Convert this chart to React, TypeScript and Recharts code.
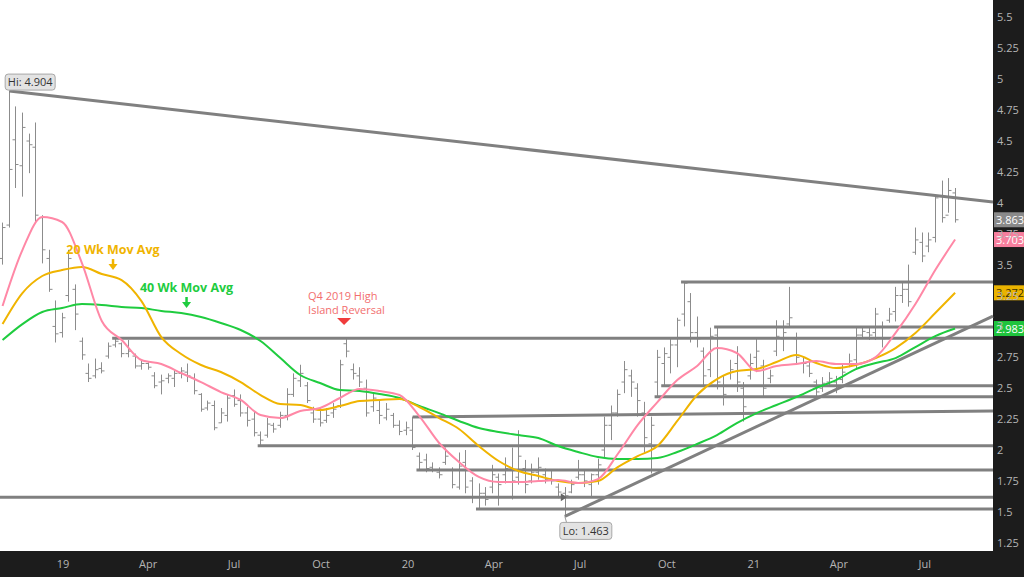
import React from 'react';
import {
  ComposedChart,
  Bar,
  Line,
  XAxis,
  YAxis,
  ReferenceLine,
  ReferenceDot,
  CartesianGrid,
} from 'recharts';

// ---- weekly OHLC bars ----
const barHigh = [
  3.84, 4.904, 4.78, 4.73, 4.56, 4.65, 3.9, 3.62, 3.21, 3.11,
  3.62, 3.34, 2.91, 2.7, 2.74, 2.71, 2.87, 2.91, 2.87, 2.89,
  2.78, 2.73, 2.71, 2.63, 2.61, 2.62, 2.65, 2.67, 2.7, 2.62,
  2.46, 2.4, 2.4, 2.34, 2.45, 2.49, 2.45, 2.35, 2.31, 2.15,
  2.26, 2.22, 2.31, 2.5, 2.62, 2.69, 2.55, 2.35, 2.34, 2.34,
  2.38, 2.73, 2.9, 2.7, 2.67, 2.57, 2.46, 2.4, 2.38, 2.3,
  2.24, 2.23, 2.27, 1.98, 1.97, 1.9, 1.86, 2.02, 1.86, 1.98,
  2.0, 1.78, 1.73, 1.7, 1.88, 1.81, 1.94, 2.02, 2.16, 1.92,
  1.89, 1.94, 1.85, 1.84, 1.73, 1.7, 1.76, 1.92, 1.84, 1.81,
  1.93, 2.27, 2.36, 2.49, 2.72, 2.65, 2.54, 2.39, 2.27, 2.81,
  2.83, 2.91, 3.07, 3.36, 3.27, 3.08, 2.83, 2.99, 2.99, 2.6,
  2.73, 2.84, 2.55, 2.78, 2.9, 2.73, 2.65, 3.05, 3.05, 3.32,
  2.95, 2.76, 2.73, 2.57, 2.59, 2.63, 2.6, 2.7, 2.78, 2.99,
  2.99, 2.99, 3.15, 3.04, 3.15, 3.32, 3.36, 3.5, 3.8, 3.76,
  3.76, 4.06, 4.18, 4.2, 4.12,
];
const barLow = [
  3.5, 3.8, 4.12, 4.05, 4.24, 3.84, 3.51, 3.28, 2.87, 2.91,
  3.2, 2.97, 2.73, 2.55, 2.58, 2.62, 2.74, 2.83, 2.75, 2.75,
  2.66, 2.65, 2.65, 2.5, 2.45, 2.54, 2.51, 2.58, 2.55, 2.45,
  2.31, 2.32, 2.16, 2.22, 2.23, 2.35, 2.27, 2.19, 2.11, 2.03,
  2.1, 2.14, 2.18, 2.24, 2.43, 2.51, 2.38, 2.22, 2.19, 2.22,
  2.26, 2.34, 2.75, 2.57, 2.51, 2.27, 2.31, 2.21, 2.24, 2.18,
  2.12, 2.12, 2.0, 1.84, 1.82, 1.82, 1.77, 1.88, 1.69, 1.68,
  1.65, 1.57, 1.53, 1.55, 1.65, 1.55, 1.73, 1.6, 1.72, 1.65,
  1.73, 1.76, 1.73, 1.72, 1.61, 1.463, 1.65, 1.76, 1.7, 1.62,
  1.72, 1.94, 2.08, 2.27, 2.46, 2.43, 2.27, 1.98, 1.81, 2.43,
  2.52, 2.62, 2.67, 3.0, 2.87, 2.83, 2.51, 2.59, 2.49, 2.36,
  2.57, 2.47, 2.23, 2.57, 2.63, 2.43, 2.54, 2.76, 2.8, 3.0,
  2.69, 2.62, 2.59, 2.43, 2.47, 2.51, 2.46, 2.54, 2.67, 2.65,
  2.91, 2.89, 2.89, 2.83, 3.03, 3.04, 3.19, 3.16, 3.58, 3.52,
  3.6, 3.68, 3.84, 3.92, 3.84,
];
const barOpen = [
  3.55, 3.82, 4.51, 4.3, 4.5, 4.45, 3.88, 3.55, 3.0, 2.95,
  3.25, 3.3, 2.88, 2.62, 2.6, 2.66, 2.76, 2.85, 2.86, 2.78,
  2.76, 2.68, 2.7, 2.6, 2.55, 2.58, 2.58, 2.62, 2.63, 2.58,
  2.45, 2.34, 2.36, 2.22, 2.28, 2.44, 2.4, 2.3, 2.25, 2.12,
  2.12, 2.2, 2.2, 2.28, 2.45, 2.56, 2.52, 2.3, 2.25, 2.24,
  2.3, 2.36, 2.86, 2.65, 2.6, 2.5, 2.35, 2.32, 2.26, 2.28,
  2.2, 2.16, 2.16, 1.95, 1.92, 1.86, 1.82, 1.9, 1.84, 1.7,
  1.9, 1.75, 1.62, 1.65, 1.7, 1.78, 1.8, 1.85, 1.78, 1.85,
  1.75, 1.82, 1.8, 1.77, 1.7, 1.65, 1.66, 1.78, 1.8, 1.72,
  1.8, 2.0, 2.2, 2.3, 2.55, 2.6, 2.5, 2.3, 2.05, 2.55,
  2.7, 2.75, 2.85, 3.1, 3.2, 2.95, 2.8, 2.65, 2.93, 2.52,
  2.62, 2.7, 2.5, 2.6, 2.75, 2.68, 2.58, 2.8, 2.9, 3.02,
  2.9, 2.7, 2.68, 2.55, 2.5, 2.55, 2.55, 2.57, 2.7, 2.73,
  2.93, 2.95, 2.95, 3.0, 3.05, 3.12, 3.25, 3.3, 3.6, 3.68,
  3.65, 3.72, 4.05, 3.9, 4.08,
];
const barClose = [
  3.8, 4.27, 4.31, 4.61, 4.47, 3.9, 3.62, 3.3, 2.94, 3.07,
  3.55, 3.1, 2.77, 2.58, 2.65, 2.64, 2.84, 2.88, 2.78, 2.8,
  2.68, 2.7, 2.67, 2.52, 2.56, 2.6, 2.62, 2.64, 2.6, 2.48,
  2.33, 2.38, 2.18, 2.3, 2.42, 2.37, 2.3, 2.24, 2.14, 2.08,
  2.21, 2.17, 2.28, 2.45, 2.58, 2.62, 2.4, 2.25, 2.22, 2.28,
  2.33, 2.69, 2.8, 2.62, 2.55, 2.3, 2.42, 2.28, 2.33, 2.2,
  2.15, 2.18, 2.02, 1.9, 1.85, 1.84, 1.8, 1.95, 1.72, 1.87,
  1.7, 1.62, 1.65, 1.6, 1.8, 1.72, 1.85, 1.75, 1.95, 1.72,
  1.82, 1.86, 1.76, 1.75, 1.66, 1.63, 1.72, 1.8, 1.75, 1.8,
  1.88, 2.2, 2.3, 2.45, 2.65, 2.55, 2.4, 2.1, 2.2, 2.75,
  2.78, 2.85, 3.05, 3.35, 2.95, 2.9, 2.6, 2.92, 2.55, 2.45,
  2.65, 2.55, 2.35, 2.7, 2.8, 2.5, 2.6, 2.92, 2.95, 3.07,
  2.75, 2.7, 2.62, 2.47, 2.54, 2.58, 2.5, 2.63, 2.72, 2.93,
  2.96, 2.93, 3.1, 2.9, 3.1, 3.25, 3.3, 3.2, 3.7, 3.57,
  3.7, 4.04, 3.88, 4.1, 3.863,
];

// bar timing: days counted from 1 Jan 2019, one bar per week
const FIRST_BAR_DAY = -64;
const BAR_STEP_DAYS = 7;

// ---- moving averages, read every 3rd bar ----
const MA_SAMPLE_STEP = 3;
const ma9 = [
  3.165, 3.618, 3.885, 3.845, 3.513, 3.044, 2.89, 2.728, 2.696, 2.623,
  2.55, 2.469, 2.405, 2.283, 2.259, 2.316, 2.34, 2.421, 2.494, 2.477,
  2.445, 2.275, 2.057, 1.903, 1.782, 1.741, 1.741, 1.749, 1.757, 1.733,
  1.765, 1.968, 2.202, 2.388, 2.566, 2.68, 2.825, 2.785, 2.639, 2.68,
  2.696, 2.72, 2.696, 2.696, 2.752, 2.947, 3.181, 3.456, 3.703,
];
const ma20 = [
  3.019, 3.27, 3.408, 3.456, 3.481, 3.424, 3.375, 3.205, 2.914, 2.777,
  2.688, 2.631, 2.55, 2.445, 2.372, 2.364, 2.324, 2.356, 2.396, 2.405,
  2.413, 2.348, 2.259, 2.17, 2.032, 1.911, 1.83, 1.79, 1.749, 1.733,
  1.749, 1.862, 1.951, 2.032, 2.235, 2.445, 2.574, 2.639, 2.655, 2.712,
  2.769, 2.704, 2.663, 2.688, 2.744, 2.825, 2.947, 3.108, 3.272,
];
const ma40 = [
  2.89, 3.019, 3.117, 3.149, 3.181, 3.173, 3.157, 3.149, 3.125, 3.108,
  3.076, 3.028, 2.971, 2.882, 2.744, 2.607, 2.542, 2.485, 2.477, 2.453,
  2.421, 2.356, 2.299, 2.235, 2.178, 2.146, 2.121, 2.097, 2.032, 1.984,
  1.943, 1.927, 1.927, 1.935, 1.984, 2.049, 2.121, 2.218, 2.299, 2.364,
  2.429, 2.502, 2.566, 2.655, 2.704, 2.744, 2.833, 2.922, 2.983,
];

// ---- axes ----
const xTickDays = [0, 90, 181, 273, 365, 456, 547, 639, 731, 821, 912];
const xTickLabels = ['19', 'Apr', 'Jul', 'Oct', '20', 'Apr', 'Jul', 'Oct', '21', 'Apr', 'Jul'];
const yTicks = [1.25, 1.5, 1.75, 2, 2.25, 2.5, 2.75, 3, 3.25, 3.5, 3.75, 4, 4.25, 4.5, 4.75, 5, 5.25, 5.5];
const X_MIN = -66.7;
const X_MAX = 984.1;
const Y_MIN = 1.183;
const Y_MAX = 5.641;

// ---- support / resistance levels (start bar -> right edge) ----
const levelValues = [2.905, 3.36, 2.995, 2.52, 2.43, 2.035, 1.838, 1.617, 1.523];
const levelStartBars = [17, 103, 108, 100, 99, 39, 63, -1, 72];

// ---- sloped lines (start bar, start value -> value at right edge) ----
const trendStartBars = [1, 85, 62];
const trendStartValues = [4.904, 1.463, 2.267];
const trendEndValues = [4.006, 3.084, 2.316];

// ---- last values shown on the price axis ----
const lastValues = [3.863, 3.703, 3.272, 2.983];
const lastColors = ['#8a8a8a', '#f77f9e', '#eab300', '#1fc43d'];
const lastTextColors = ['#ffffff', '#ffffff', '#3a3000', '#ffffff'];

const barDay = (i: number) => FIRST_BAR_DAY + BAR_STEP_DAYS * i;

const data = barHigh.map((h, i) => ({
  day: barDay(i),
  range: [barLow[i], h],
  high: h,
  low: barLow[i],
  open: barOpen[i],
  close: barClose[i],
}));

const maSeries = (vals: number[]) =>
  vals.map((v, s) => ({ day: barDay(s * MA_SAMPLE_STEP), v }));
const ma9Data = maSeries(ma9);
const ma20Data = maSeries(ma20);
const ma40Data = maSeries(ma40);

const FONT = '"Open Sans", "DejaVu Sans", sans-serif';
const BAR_COLOR = '#8c8c8c';
const LEVEL_COLOR = '#808080';

const OhlcShape = (props: any) => {
  const { x, y, width, height, payload } = props;
  if (x == null || y == null || !payload) return null;
  const top = Math.min(y, y + height);
  const h = Math.abs(height);
  const cx = Math.round(x + width / 2) + 0.5;
  const span = payload.high - payload.low || 1;
  const k = h / span;
  const oy = top + (payload.high - payload.open) * k;
  const cy = top + (payload.high - payload.close) * k;
  return (
    <g stroke={BAR_COLOR} strokeWidth={1}>
      <line x1={cx} x2={cx} y1={top} y2={top + h} />
      <line x1={cx - 3} x2={cx} y1={oy} y2={oy} />
      <line x1={cx} x2={cx + 3} y1={cy} y2={cy} />
    </g>
  );
};

const YTick = (props: any) => {
  const { x, y, payload } = props;
  return (
    <text x={x} y={y} dy={4} textAnchor="start" fill="#b5b5b5" fontSize={11} fontFamily={FONT}>
      {String(payload.value)}
    </text>
  );
};

const XTick = (props: any) => {
  const { x, y, payload } = props;
  const idx = xTickDays.indexOf(payload.value);
  return (
    <text x={x} y={y} dy={17} textAnchor="middle" fill="#b5b5b5" fontSize={11} fontFamily={FONT}>
      {idx >= 0 ? xTickLabels[idx] : ''}
    </text>
  );
};

const makeBadge = (value: number, bg: string, fg: string) => (props: any) => {
  const { cx, cy } = props;
  if (cx == null || cy == null) return null;
  return (
    <g>
      <rect x={cx + 1} y={cy - 7.5} width={40} height={15} fill={bg} />
      <text x={cx + 3} y={cy + 4} fill={fg} fontSize={11} fontFamily={FONT}>
        {value.toFixed(3)}
      </text>
    </g>
  );
};

const HiShape = (props: any) => {
  const { cx, cy } = props;
  return (
    <g>
      <rect x={cx - 4} y={cy - 17} width={50} height={16} rx={3} fill="#e3e3e3" stroke="#a8a8a8" />
      <text x={cx + 21} y={cy - 5} textAnchor="middle" fill="#333" fontSize={11} fontFamily={FONT}>
        {`Hi: ${barHigh[1].toFixed(3)}`}
      </text>
    </g>
  );
};

const LoShape = (props: any) => {
  const { cx, cy } = props;
  return (
    <g>
      <line x1={cx} y1={cy} x2={cx + 2} y2={cy + 7} stroke="#999" strokeWidth={1} />
      <rect x={cx - 5} y={cy + 6} width={52} height={17} rx={3} fill="#e3e3e3" stroke="#a8a8a8" />
      <text x={cx + 21} y={cy + 19} textAnchor="middle" fill="#333" fontSize={11} fontFamily={FONT}>
        {`Lo: ${barLow[85].toFixed(3)}`}
      </text>
    </g>
  );
};

const LoMarker = (props: any) => {
  const { cx, cy } = props;
  return <polygon points={`${cx - 4},${cy - 4} ${cx + 2},${cy} ${cx - 4},${cy + 4}`} fill="#666" />;
};

const makeMaLabel = (label: string, color: string) => (props: any) => {
  const { cx, cy } = props;
  return (
    <g>
      <text x={cx} y={cy + 5} textAnchor="middle" fill={color} fontSize={12.5} fontWeight="bold" fontFamily={FONT}>
        {label}
      </text>
      <line x1={cx} y1={cy + 10} x2={cx} y2={cy + 17} stroke={color} strokeWidth={2.5} />
      <polygon points={`${cx - 4.5},${cy + 15} ${cx + 4.5},${cy + 15} ${cx},${cy + 21}`} fill={color} />
    </g>
  );
};

const Q4Shape = (props: any) => {
  const { cx, cy } = props;
  return (
    <g>
      <text x={cx - 36} y={cy - 22} fill="#f26e6e" fontSize={11} fontFamily={FONT}>
        Q4 2019 High
      </text>
      <text x={cx - 36} y={cy - 8} fill="#f26e6e" fontSize={11} fontFamily={FONT}>
        Island Reversal
      </text>
      <polygon points={`${cx - 7},${cy - 4} ${cx + 7},${cy - 4} ${cx},${cy + 3}`} fill="#f03c3c" />
    </g>
  );
};

// annotation anchors in chart coordinates (day, price)
const MA20_LABEL_AT = { day: 52.9, price: 3.626 };
const MA40_LABEL_AT = { day: 130.7, price: 3.319 };
const Q4_LABEL_AT = { day: 297.4, price: 3.036 };

export default function App() {
  return (
    <div
      style={{
        position: 'absolute',
        left: 0,
        top: 0,
        width: 1024,
        height: 577,
        background: '#1c1c1c',
        overflow: 'hidden',
      }}
    >
      <ComposedChart
        width={1024}
        height={577}
        data={data}
        margin={{ top: 0, right: 0, bottom: 0, left: 0 }}
      >
        <CartesianGrid fill="#ffffff" horizontal={false} vertical={false} />
        <XAxis
          dataKey="day"
          type="number"
          domain={[X_MIN, X_MAX]}
          allowDataOverflow
          ticks={xTickDays}
          interval={0}
          height={26}
          axisLine={false}
          tickLine={false}
          tickSize={0}
          tickMargin={0}
          tick={<XTick />}
        />
        <YAxis
          orientation="right"
          type="number"
          domain={[Y_MIN, Y_MAX]}
          allowDataOverflow
          ticks={yTicks}
          interval={0}
          width={31}
          axisLine={false}
          tickLine={false}
          tickSize={0}
          tickMargin={4}
          tick={<YTick />}
        />

        {levelValues.map((v, k) => (
          <ReferenceLine
            key={`lvl${k}`}
            segment={[
              { x: levelStartBars[k] < 0 ? X_MIN : barDay(levelStartBars[k]) - 3, y: v },
              { x: X_MAX, y: v },
            ]}
            stroke={LEVEL_COLOR}
            strokeWidth={3}
            ifOverflow="visible"
          />
        ))}
        {trendStartBars.map((b, k) => (
          <ReferenceLine
            key={`tr${k}`}
            segment={[
              { x: barDay(b), y: trendStartValues[k] },
              { x: X_MAX, y: trendEndValues[k] },
            ]}
            stroke={LEVEL_COLOR}
            strokeWidth={3}
            ifOverflow="visible"
          />
        ))}

        <Bar dataKey="range" shape={OhlcShape} barSize={6} isAnimationActive={false} />

        <Line data={ma40Data} dataKey="v" type="monotone" stroke="#1fcc3f" strokeWidth={2} dot={false} activeDot={false} isAnimationActive={false} />
        <Line data={ma20Data} dataKey="v" type="monotone" stroke="#f0b400" strokeWidth={2} dot={false} activeDot={false} isAnimationActive={false} />
        <Line data={ma9Data} dataKey="v" type="monotone" stroke="#ff88a6" strokeWidth={2} dot={false} activeDot={false} isAnimationActive={false} />

        <ReferenceDot x={barDay(1)} y={barHigh[1]} r={0} shape={HiShape} ifOverflow="visible" />
        <ReferenceDot x={barDay(85)} y={barLow[85]} r={0} shape={LoShape} ifOverflow="visible" />
        <ReferenceDot x={barDay(85)} y={levelValues[7]} r={0} shape={LoMarker} ifOverflow="visible" />
        <ReferenceDot
          x={MA20_LABEL_AT.day}
          y={MA20_LABEL_AT.price}
          r={0}
          shape={makeMaLabel('20 Wk Mov Avg', '#f0b400')}
          ifOverflow="visible"
        />
        <ReferenceDot
          x={MA40_LABEL_AT.day}
          y={MA40_LABEL_AT.price}
          r={0}
          shape={makeMaLabel('40 Wk Mov Avg', '#1fcc3f')}
          ifOverflow="visible"
        />
        <ReferenceDot x={Q4_LABEL_AT.day} y={Q4_LABEL_AT.price} r={0} shape={Q4Shape} ifOverflow="visible" />

        {lastValues.map((v, k) => (
          <ReferenceDot
            key={`badge${k}`}
            x={X_MAX}
            y={v}
            r={0}
            shape={makeBadge(v, lastColors[k], lastTextColors[k])}
            ifOverflow="visible"
          />
        ))}
      </ComposedChart>
    </div>
  );
}
